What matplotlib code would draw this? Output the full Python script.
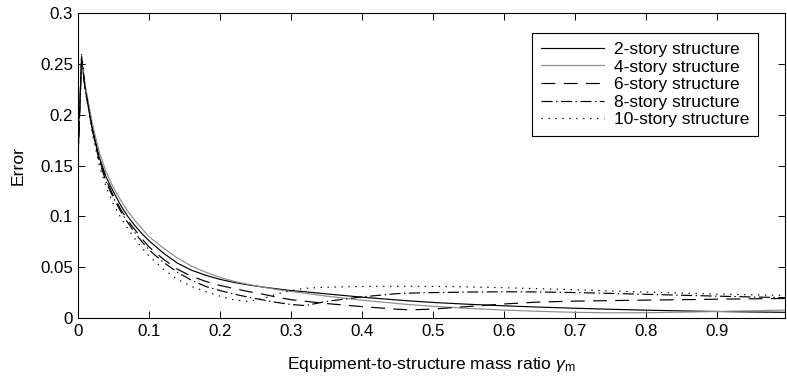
import matplotlib
matplotlib.use('Agg')
import matplotlib.pyplot as plt

plt.rcParams['font.family'] = ['Liberation Sans', 'DejaVu Sans']
plt.rcParams['mathtext.fontset'] = 'custom'
plt.rcParams['mathtext.rm'] = 'Liberation Sans'
plt.rcParams['mathtext.it'] = 'Liberation Sans:italic'
plt.rcParams['lines.scale_dashes'] = False

# mass ratio samples
mass_ratio = [0, 0.005, 0.01, 0.02, 0.03, 0.04, 0.05, 0.06, 0.07, 0.08, 0.09, 0.10,
              0.12, 0.14, 0.16, 0.18, 0.20, 0.22, 0.24, 0.26, 0.28, 0.30, 0.32, 0.35,
              0.40, 0.45, 0.47, 0.50, 0.55, 0.60, 0.65, 0.70, 0.75, 0.80, 0.85, 0.90,
              0.95, 0.996]

err_2story = [0.158, 0.255, 0.228, 0.188, 0.158, 0.138, 0.124, 0.111, 0.100, 0.091, 0.083, 0.076,
              0.064, 0.054, 0.047, 0.042, 0.038, 0.035, 0.0325, 0.0305, 0.0287, 0.027, 0.0258, 0.0237,
              0.0205, 0.0177, 0.0167, 0.0153, 0.0135, 0.0120, 0.0107, 0.0096, 0.0086, 0.0077, 0.0070, 0.0064,
              0.0059, 0.0056]

err_4story = [0.158, 0.251, 0.229, 0.192, 0.163, 0.143, 0.128, 0.116, 0.105, 0.096, 0.088, 0.080,
              0.069, 0.059, 0.051, 0.045, 0.040, 0.036, 0.033, 0.0305, 0.028, 0.026, 0.0243, 0.0215,
              0.0175, 0.0142, 0.013, 0.0115, 0.0094, 0.0078, 0.0065, 0.0056, 0.0051, 0.0052, 0.0057, 0.0064,
              0.0071, 0.0078]

err_6story = [0.158, 0.253, 0.226, 0.186, 0.156, 0.135, 0.120, 0.107, 0.096, 0.087, 0.078, 0.070,
              0.058, 0.048, 0.041, 0.036, 0.032, 0.029, 0.026, 0.0235, 0.0205, 0.018, 0.0165, 0.0142,
              0.0112, 0.0086, 0.0080, 0.0088, 0.0113, 0.0138, 0.0157, 0.0166, 0.0171, 0.0176, 0.0180, 0.0185,
              0.0189, 0.0192]

err_8story = [0.158, 0.257, 0.226, 0.185, 0.154, 0.133, 0.118, 0.105, 0.094, 0.084, 0.075, 0.067,
              0.055, 0.045, 0.037, 0.031, 0.027, 0.0235, 0.0205, 0.0178, 0.0153, 0.0133, 0.0122, 0.0163,
              0.0208, 0.0240, 0.0245, 0.0250, 0.0255, 0.0258, 0.0256, 0.0250, 0.0242, 0.0233, 0.0224, 0.0215,
              0.0207, 0.0200]

err_10story = [0.158, 0.260, 0.225, 0.182, 0.150, 0.128, 0.112, 0.099, 0.088, 0.078, 0.069, 0.061,
               0.048, 0.038, 0.031, 0.026, 0.0215, 0.0178, 0.0162, 0.019, 0.0235, 0.027, 0.0292, 0.0303,
               0.0310, 0.0312, 0.0312, 0.0311, 0.0306, 0.0298, 0.0288, 0.0278, 0.0266, 0.0255, 0.0245, 0.0236,
               0.0228, 0.0222]

labels = ['2-story structure', '4-story structure', '6-story structure',
          '8-story structure', '10-story structure']

xticks = [0, 0.1, 0.2, 0.3, 0.4, 0.5, 0.6, 0.7, 0.8, 0.9]
xticklabels = ['0', '0.1', '0.2', '0.3', '0.4', '0.5', '0.6', '0.7', '0.8', '0.9']
yticks = [0, 0.05, 0.1, 0.15, 0.2, 0.25, 0.3]
yticklabels = ['0', '0.05', '0.1', '0.15', '0.2', '0.25', '0.3']

fig = plt.figure(figsize=(7.87, 3.78), dpi=100)
ax = fig.add_axes([78 / 787, 1 - 318 / 378, 707 / 787, 305 / 378])

lw = 0.85
ax.plot(mass_ratio, err_2story, color='black', lw=lw, label=labels[0])
ax.plot(mass_ratio, err_4story, color='0.55', lw=lw, label=labels[1])
ax.plot(mass_ratio, err_6story, color='black', lw=lw, dashes=(10, 6), label=labels[2])
ax.plot(mass_ratio, err_8story, color='black', lw=lw, dashes=(8, 2.5, 1, 2.5), label=labels[3])
ax.plot(mass_ratio, err_10story, color='black', lw=lw, dashes=(1, 4), label=labels[4])

ax.set_xlim(0, 0.996)
ax.set_ylim(0, 0.3)
ax.set_xticks(xticks)
ax.set_xticklabels(xticklabels)
ax.set_yticks(yticks)
ax.set_yticklabels(yticklabels)
ax.tick_params(direction='in', length=5, width=0.7, top=True, right=True,
               labelsize=12.2, colors='black')
ax.tick_params(axis='x', pad=4)
ax.tick_params(axis='y', pad=3.5)
for s in ax.spines.values():
    s.set_linewidth(0.8)
    s.set_color('black')

ax.set_xlabel(r'Equipment-to-structure mass ratio $\it{\gamma}_{\rm m}$', fontsize=12.6, va='center')
ax.xaxis.set_label_coords(0.5, -0.151)
ax.set_ylabel('Error', fontsize=12.6, va='center')
ax.yaxis.set_label_coords(-0.085, 0.5)

leg = ax.legend(loc='upper right', bbox_to_anchor=(0.962, 0.934), fontsize=12.5,
                frameon=True, fancybox=False, framealpha=1, edgecolor='black',
                handlelength=3.63, handletextpad=0.58, labelspacing=0.14,
                borderpad=0.5, borderaxespad=0)
leg.get_frame().set_linewidth(0.8)

fig.savefig('out.png', dpi=100)
